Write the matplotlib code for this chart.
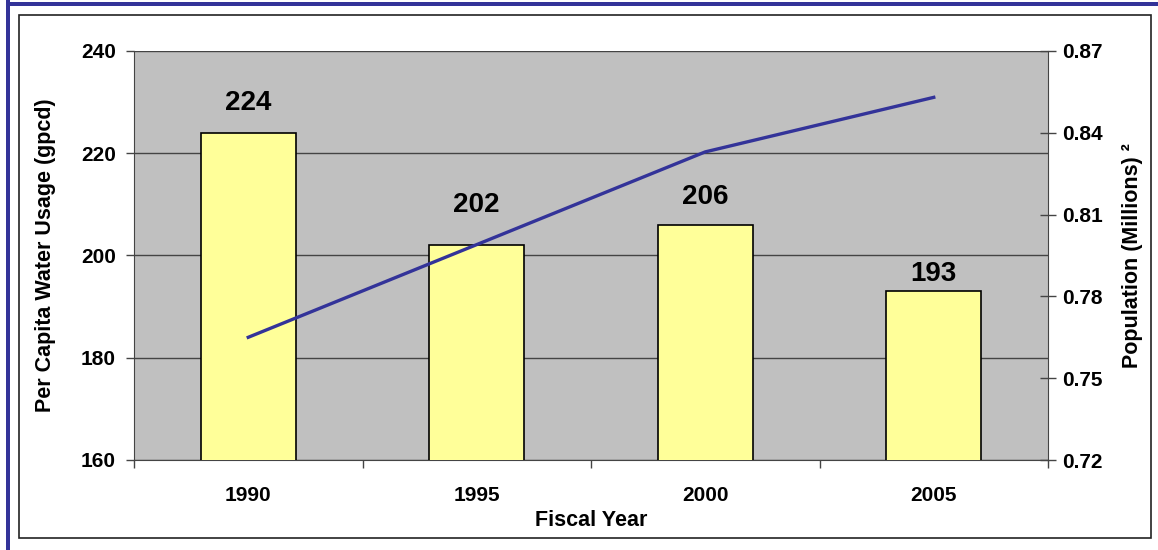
import numpy as np
import matplotlib.pyplot as plt
from matplotlib.patches import Rectangle

plt.rcParams['font.family'] = ['Liberation Sans', 'DejaVu Sans']
plt.rcParams['font.weight'] = 'bold'

years = ["1990", "1995", "2000", "2005"]
usage = [224, 202, 206, 193]
population = [0.765, 0.799, 0.833, 0.853]

# label offsets above bar tops (pixels), as placed in the original
label_offsets = [30, 40, 28, 17]

fig = plt.figure(figsize=(11.58, 5.5), dpi=100)

# outer decorations: blue border and black frame
fig.add_artist(Rectangle((6 / 1158, 0), 4 / 1158, 1, transform=fig.transFigure,
                         facecolor="#333399", edgecolor="none"))
fig.add_artist(Rectangle((6 / 1158, 1 - 6 / 550), 1 - 6 / 1158, 4 / 550,
                         transform=fig.transFigure, facecolor="#333399", edgecolor="none"))
fig.add_artist(Rectangle((19 / 1158, 12 / 550), 1132 / 1158, 523 / 550,
                         transform=fig.transFigure, facecolor="none",
                         edgecolor="#222222", linewidth=1.2))

ax = fig.add_axes([134 / 1158, 90 / 550, 914 / 1158, 409 / 550])
ax.set_facecolor("#C0C0C0")

x = np.arange(len(years))
bars = ax.bar(x, usage, width=0.415, color="#FFFF99", edgecolor="black", linewidth=1.2, zorder=3)

for xi, v, off in zip(x, usage, label_offsets):
    ax.annotate(str(v), (xi, v), xytext=(0, off * 0.72), textcoords="offset points",
                ha="center", va="center", fontsize=20, fontweight="bold", zorder=5)

ax.set_ylim(160, 240)
ax.set_yticks([160, 180, 200, 220, 240])
ax.set_xlim(-0.5, 3.5)
ax.set_xticks(np.arange(-0.5, 4, 1))
ax.set_xticklabels([])
ax.set_xticks(x, minor=True)
ax.set_xticklabels(years, minor=True)
ax.tick_params(axis="x", which="major", direction="out", length=6, width=1, color="#444444")
ax.tick_params(axis="x", which="minor", length=0, pad=19, labelsize=15)
ax.tick_params(axis="y", direction="out", length=6, width=1, color="#444444", labelsize=15, pad=7)
ax.grid(axis="y", color="#444444", linewidth=1, zorder=1)
for s in ["top", "right"]:
    ax.spines[s].set_visible(False)
for s in ["left", "bottom"]:
    ax.spines[s].set_color("#444444")

ax.set_xlabel("Fiscal Year", fontsize=15.5, fontweight="bold", labelpad=3)
ax.set_ylabel("Per Capita Water Usage (gpcd)", fontsize=15.5, fontweight="bold", labelpad=18)

ax2 = ax.twinx()
ax2.plot(x, population, color="#333399", linewidth=2.4, zorder=4)
ax2.set_ylim(0.72, 0.87)
ax2.set_yticks([0.72, 0.75, 0.78, 0.81, 0.84, 0.87])
ax2.set_yticklabels([f"{t:.2f}" for t in [0.72, 0.75, 0.78, 0.81, 0.84, 0.87]])
ax2.tick_params(axis="y", direction="inout", length=12, width=1, color="#444444", labelsize=15, pad=4)
for s in ["top", "left", "bottom"]:
    ax2.spines[s].set_visible(False)
ax2.spines["right"].set_color("#444444")
ax2.set_ylabel("Population (Millions) ²", fontsize=15.5, fontweight="bold", labelpad=14)

fig.savefig("out.png", dpi=100)
